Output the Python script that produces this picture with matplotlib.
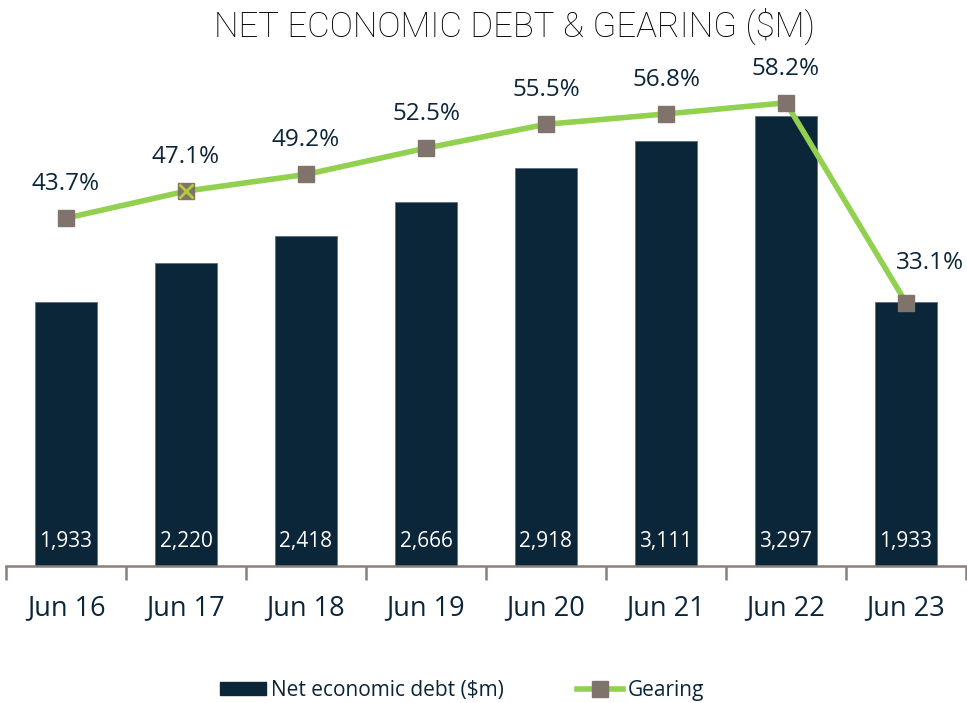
import matplotlib.pyplot as plt
from matplotlib.lines import Line2D
from matplotlib.patches import Patch

# Data
periods = ["Jun 16", "Jun 17", "Jun 18", "Jun 19", "Jun 20", "Jun 21", "Jun 22", "Jun 23"]
net_debt = [1933, 2220, 2418, 2666, 2918, 3111, 3297, 1933]
gearing = [43.7, 47.1, 49.2, 52.5, 55.5, 56.8, 58.2, 33.1]

NAVY = "#0B2539"
GREEN = "#92D050"
MARKER = "#7F736C"
AXIS = "#8C7F78"

plt.rcParams["font.family"] = ["Open Sans", "DejaVu Sans"]

fig = plt.figure(figsize=(9.67, 7.03), dpi=100)
ax = fig.add_axes([6 / 967, 137 / 703, 960 / 967, 546 / 703])
ax2 = ax.twinx()

x = list(range(len(periods)))
ax.bar(x, net_debt, width=0.52, color=NAVY, edgecolor="#5B6F80", linewidth=0.6, zorder=2)
for xi, v in zip(x, net_debt):
    ax.text(xi, 180, f"{v:,}", ha="center", va="center", color="white", fontsize=15)

ax.set_xlim(-0.5, len(periods) - 0.5)
ax.set_ylim(0, 4000)
ax.set_xticks(x)
ax.set_xticklabels(periods, fontsize=19.5, color=NAVY)
ax.tick_params(axis="x", which="major", length=0, pad=20)
ax.set_xticks([i - 0.5 for i in range(len(periods) + 1)], minor=True)
ax.tick_params(axis="x", which="minor", length=10, width=1.8, color=AXIS)
ax.set_yticks([])
for s in ["top", "left", "right"]:
    ax.spines[s].set_visible(False)
ax.spines["bottom"].set_color(AXIS)
ax.spines["bottom"].set_linewidth(1.8)

# Gearing line
ax2.plot(x, gearing, color=GREEN, linewidth=4, marker="s", markersize=11,
         markerfacecolor=MARKER, markeredgecolor=MARKER, zorder=3)
ax2.plot(x[1], gearing[1], marker="x", markersize=10, color="#B5CC3A",
         markeredgewidth=2, linestyle="none", zorder=4)
for i, (xi, g) in enumerate(zip(x, gearing)):
    if i == len(x) - 1:
        ax2.text(xi + 0.2, g + 5.0, f"{g:.1f}%", ha="center", va="center",
                 color=NAVY, fontsize=17.5)
    else:
        ax2.text(xi, g + 4.3, f"{g:.1f}%", ha="center", va="center",
                 color=NAVY, fontsize=17.5)
ax2.set_ylim(0, 68.6)
ax2.set_yticks([])
for s in ["top", "left", "right", "bottom"]:
    ax2.spines[s].set_visible(False)

fig.text(0.532, 0.963, "NET ECONOMIC DEBT & GEARING ($M)", ha="center", va="center",
         fontsize=25, fontweight="light", color="black", family=["Roboto", "DejaVu Sans"])

handles = [
    Patch(facecolor=NAVY, edgecolor=NAVY),
    Line2D([0], [0], color=GREEN, linewidth=4, marker="s", markersize=11,
           markerfacecolor=MARKER, markeredgecolor=MARKER),
]
leg = fig.legend(handles, ["Net economic debt ($m)", "Gearing"], loc="center",
                 bbox_to_anchor=(0.478, 0.018), ncol=2, frameon=False, fontsize=15,
                 handlelength=2.2, handleheight=0.6, handletextpad=0.25,
                 columnspacing=3.5)
for t in leg.get_texts():
    t.set_color(NAVY)

fig.savefig("out.png", dpi=100)
